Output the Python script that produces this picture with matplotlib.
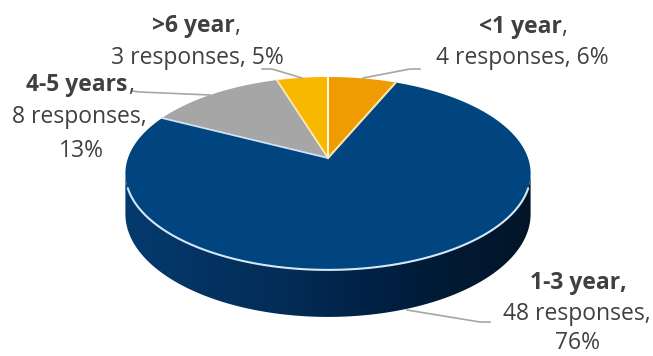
import numpy as np
import matplotlib
matplotlib.use("Agg")
import matplotlib.pyplot as plt
from matplotlib.colors import LinearSegmentedColormap
from matplotlib.patches import Polygon

# Datos
categorias = ["<1 year", "1-3 year,", "4-5 years", ">6 year"]
respuestas = [4, 48, 8, 3]
lineas = [["4 responses, 6%"], ["48 responses,", "76%"], ["8 responses,", "13%"], ["3 responses, 5%"]]
colores = ["#EE9C02", "#00457F", "#A6A6A6", "#F9B800"]
separadores = ["#FFFFFF", "#F8E3A8", "#CFE2F3", "#FBE9B5"]

# Geometria de la tarta en pixeles
CX, CY = 328, 158
RX, RY = 200, 94
K = 0.16
PROF = 39.5
GRIS = "#404040"
FUENTE = "Open Sans"
TAM = 16.5


def proyectar(ang):
    # ang en radianes, en sentido horario desde arriba
    u = np.sin(ang)
    v = np.cos(ang)
    w = 1 + K * v
    return CX + RX * u / w, CY - RY * v / w, w


fig = plt.figure(figsize=(6.53, 3.56), dpi=100)
ax = fig.add_axes([0, 0, 1, 1])

# Lateral con degradado
angs = np.linspace(np.arccos(-K), 2 * np.pi - np.arccos(-K), 300)
x, y, w = proyectar(angs)
contorno = np.c_[np.r_[x, x[::-1]], np.r_[y, (y + PROF / w)[::-1]]]
cmap = LinearSegmentedColormap.from_list("lateral", [
    (0, "#053A6E"), (0.4, "#032C56"), (0.6, "#012146"), (0.8, "#021A34"), (1, "#031528")])
lado = Polygon(contorno, closed=True, fc="none", ec="none", transform=ax.transData)
ax.add_patch(lado)
img = ax.imshow(np.linspace(0, 1, 256).reshape(1, -1), cmap=cmap, aspect="auto",
                extent=(CX - 203, CX + 203, 340, 160), zorder=1)
img.set_clip_path(lado)

ax.set_xlim(0, 653)
ax.set_ylim(356, 0)
ax.axis("off")

# Cara superior
total = sum(respuestas)
ini = 0
for n, col in zip(respuestas, colores):
    fin = ini + n / total * 2 * np.pi
    t = np.linspace(ini, fin, 200)
    x, y, _ = proyectar(t)
    ax.fill(np.r_[CX, x], np.r_[CY, y], color=col, lw=0, zorder=2)
    ini = fin

ini = 0
for n, sep in zip(respuestas, separadores):
    xs, ys, _ = proyectar(np.array(ini))
    ax.plot([CX, xs], [CY, ys], color=sep, lw=1.3, zorder=3)
    ini += n / total * 2 * np.pi
xs, ys, _ = proyectar(np.array(4 / total * 2 * np.pi))
ax.plot([CX, xs], [CY, ys], color="#F8E3A8", lw=1.3, zorder=3)

# Borde claro delantero
t = np.linspace(np.pi * 0.6, np.pi * 1.4, 200)
x, y, _ = proyectar(t)
ax.plot(x, y, color="#D5E8F6", lw=1.5, zorder=3)

# Lineas guia
guias = [
    ([363, 410, 420], [78, 69, 69]),
    ([302, 272, 262], [78, 69, 69]),
    ([210, 140, 132], [95, 92, 91]),
    ([407, 480, 490], [310, 322, 322]),
]
for gx, gy in guias:
    ax.plot(gx, gy, color="#A6A6A6", lw=1.2, zorder=4)

# Textos
pos_titulo = [(520, 27), (578, 283), (77, 85), (193, 26)]
pos_lineas = [[(522, 58)], [(577, 314), (577, 343)], [(79, 117), (81, 151)], [(197, 58)]]
comas = [True, False, True, True]
for cat, lin, pt, pl, coma in zip(categorias, lineas, pos_titulo, pos_lineas, comas):
    h = ax.text(pt[0], pt[1], cat, family=FUENTE, fontsize=TAM, fontweight="bold",
                color=GRIS, ha="center", va="center", zorder=5)
    if coma:
        ax.annotate(",", xy=(1, 0), xycoords=h, va="bottom", ha="left",
                    family=FUENTE, fontsize=TAM, color=GRIS, zorder=5)
    for s, p in zip(lin, pl):
        ax.text(p[0], p[1], s, family=FUENTE, fontsize=TAM, color=GRIS,
                ha="center", va="center", zorder=5)

fig.savefig("out.png", dpi=100)
